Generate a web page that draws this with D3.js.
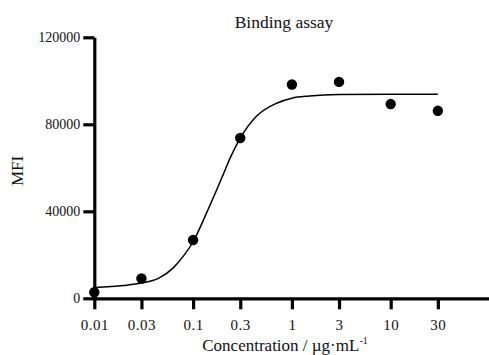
<!DOCTYPE html>
<html>
<head>
<meta charset="utf-8">
<script src="https://cdn.jsdelivr.net/npm/d3@7"></script>
<style>
  body { margin: 0; background: #fff; }
  svg { display: block; font-family: "Liberation Serif", "Times New Roman", serif; }
</style>
</head>
<body>
<svg id="chart" width="489" height="355"></svg>
<script>
// measured points
const concentrations = [0.01, 0.03, 0.1, 0.3, 1, 3, 10, 30];
const mfiValues = [2800, 9100, 26800, 73700, 98300, 99500, 89300, 86200];

// fitted curve
const fitConc = [0.01, 0.02, 0.03, 0.045, 0.063, 0.08, 0.1, 0.137, 0.17, 0.2, 0.24, 0.3, 0.44, 0.7, 1, 1.5, 3, 10, 30];
const fitMfi = [5000, 5900, 7000, 9300, 14000, 19500, 26000, 39300, 49000, 56500, 65000, 73600, 83800, 89700, 92000, 93000, 93700, 93800, 93800];

const xTicks = [0.01, 0.03, 0.1, 0.3, 1, 3, 10, 30];
const yTicks = [0, 40000, 80000, 120000];

const svg = d3.select('#chart');

const x = d3.scaleLog()
  .domain([0.01, 100])
  .range([94.3, 489.5]);
const y = d3.scaleLinear()
  .domain([0, 120000])
  .range([298.3, 37.3]);

// x axis
const xAxis = svg.append('g')
  .attr('transform', 'translate(0,' + y(0) + ')')
  .call(d3.axisBottom(x)
    .tickValues(xTicks)
    .tickFormat(d => String(d))
    .tickSize(11)
    .tickSizeOuter(0)
    .tickPadding(10));

// y axis
const yAxis = svg.append('g')
  .attr('transform', 'translate(' + x(0.01) + ',0)')
  .call(d3.axisLeft(y)
    .tickValues(yTicks)
    .tickFormat(d => String(d))
    .tickSize(11)
    .tickSizeOuter(0)
    .tickPadding(3));

[xAxis, yAxis].forEach(g => {
  g.select('.domain').attr('stroke', '#000').attr('stroke-width', 3.2);
  g.selectAll('.tick line').attr('stroke', '#000').attr('stroke-width', 3.2);
  g.selectAll('.tick text')
    .attr('fill', '#111')
    .attr('font-family', '"Liberation Serif", "Times New Roman", serif');
});
xAxis.selectAll('.tick text').attr('font-size', 15).attr('letter-spacing', 0.5);
yAxis.selectAll('.tick text').attr('font-size', 14);

// fit curve
const line = d3.line()
  .x((d, i) => x(fitConc[i]))
  .y(d => y(d))
  .curve(d3.curveMonotoneX);

svg.append('path')
  .datum(fitMfi)
  .attr('fill', 'none')
  .attr('stroke', '#000')
  .attr('stroke-width', 1.5)
  .attr('d', line);

// points
svg.append('g').selectAll('circle')
  .data(mfiValues)
  .enter().append('circle')
  .attr('cx', (d, i) => x(concentrations[i]))
  .attr('cy', d => y(d))
  .attr('r', 5.2)
  .attr('fill', '#000');

// title
svg.append('text')
  .attr('x', 284)
  .attr('y', 28)
  .attr('text-anchor', 'middle')
  .attr('font-size', 17.5)
  .attr('fill', '#111')
  .text('Binding assay');

// y label
svg.append('text')
  .attr('transform', 'translate(23,171) rotate(-90)')
  .attr('text-anchor', 'middle')
  .attr('font-size', 17)
  .attr('fill', '#111')
  .text('MFI');

// x label
const xLabel = svg.append('text')
  .attr('x', 285)
  .attr('y', 351)
  .attr('text-anchor', 'middle')
  .attr('font-size', 17)
  .attr('fill', '#111');
xLabel.append('tspan').text('Concentration / \u00b5g\u00b7mL');
xLabel.append('tspan')
  .attr('font-size', 10)
  .attr('dy', -7)
  .text('-1');
</script>
</body>
</html>
